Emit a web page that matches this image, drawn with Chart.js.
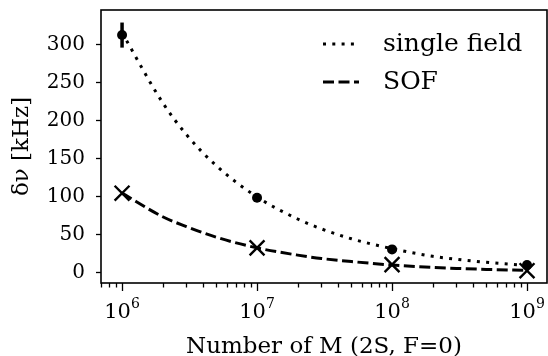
<!DOCTYPE html>
<html><head><meta charset="utf-8">
<style>html,body{margin:0;padding:0;background:#fff}#wrap{width:548px;height:356px}</style>
<script src="https://cdn.jsdelivr.net/npm/chart.js@4/dist/chart.umd.min.js"></script>
</head><body><div id="wrap"><canvas id="c" width="548" height="356"></canvas></div>
<script>
// ---- data ----
const curveN = [1e6, 2e6, 3e6, 5e6, 1e7, 2e7, 3e7, 5e7, 1e8, 2e8, 3e8, 5e8, 1e9];
const singleFieldFit = [316, 224, 182, 141, 100, 71, 58, 45, 32, 22, 18, 14, 10];
const sofFit = [105, 74, 61, 47, 33, 23.5, 19, 15, 10.5, 7.4, 6, 4.7, 3.3];
const measN = [1e6, 1e7, 1e8, 1e9];
const singleField = [313, 99, 31, 10.5];
const singleFieldErr = [16.5, 0, 0, 0];
const sof = [105, 33, 11, 3];
const xMajorTicks = [1e6, 1e7, 1e8, 1e9];
const xTickExp = ['6', '7', '8', '9'];
const yTicks = [0, 50, 100, 150, 200, 250, 300];
const legendLabels = ['single field', 'SOF'];

const FONT = 'DejaVu Serif';
const toPts = (xs, ys) => xs.map((x, i) => ({x: x, y: ys[i]}));

const LW = 3;
const DOT = [3, 6.3];
const DASH = [11, 4.5];

const boxPlugin = {
  id: 'box',
  afterDatasetsDraw(chart) {
    const {ctx, scales} = chart;
    ctx.save();
    ctx.strokeStyle = '#000';
    ctx.lineWidth = 3.5;
    measN.forEach((n, i) => {
      if (!singleFieldErr[i]) return;
      const px = scales.x.getPixelForValue(n);
      ctx.beginPath();
      ctx.moveTo(px, scales.y.getPixelForValue(singleField[i] - singleFieldErr[i]));
      ctx.lineTo(px, scales.y.getPixelForValue(singleField[i] + singleFieldErr[i]));
      ctx.stroke();
    });
    ctx.restore();
  },
  afterDraw(chart) {
    const {ctx, chartArea: a, scales} = chart;
    ctx.save();
    ctx.strokeStyle = '#000';
    ctx.lineWidth = 1.6;
    ctx.strokeRect(a.left, a.top, a.right - a.left, a.bottom - a.top);
    const xs = scales.x;
    ctx.lineWidth = 1.3;
    for (let e = 5; e <= 9; e++) {
      for (let m = 1; m <= 9; m++) {
        const v = m * Math.pow(10, e);
        if (v < xs.min || v > xs.max) continue;
        const px = Math.round(xs.getPixelForValue(v)) + 0.5;
        const len = m === 1 ? 8 : 4.5;
        ctx.beginPath(); ctx.moveTo(px, a.bottom); ctx.lineTo(px, a.bottom + len); ctx.stroke();
      }
    }
    ctx.fillStyle = '#000';
    ctx.textBaseline = 'alphabetic';
    xMajorTicks.forEach((v, i) => {
      const px = xs.getPixelForValue(v);
      ctx.font = '21px "' + FONT + '"';
      const w1 = ctx.measureText('10').width;
      ctx.font = '14px "' + FONT + '"';
      const w2 = ctx.measureText(xTickExp[i]).width;
      const left = px - (w1 + w2) / 2;
      ctx.font = '21px "' + FONT + '"';
      ctx.textAlign = 'left';
      ctx.fillText('10', left, 318);
      ctx.font = '14px "' + FONT + '"';
      ctx.fillText(xTickExp[i], left + w1, 308);
    });
    const lx0 = 323, lx1 = 359, tx = 383;
    const ly = [44, 82];
    const dashes = [DOT, DASH];
    ctx.lineWidth = LW;
    legendLabels.forEach((t, i) => {
      ctx.setLineDash(dashes[i]);
      ctx.beginPath(); ctx.moveTo(lx0, ly[i]); ctx.lineTo(lx1, ly[i]); ctx.stroke();
      ctx.setLineDash([]);
      ctx.font = '25px "' + FONT + '"';
      ctx.textAlign = 'left';
      ctx.textBaseline = 'middle';
      ctx.fillText(t, tx, ly[i]);
    });
    ctx.restore();
  }
};

new Chart(document.getElementById('c'), {
  type: 'scatter',
  data: {
    datasets: [
      {data: toPts(curveN, singleFieldFit), showLine: true, borderColor: '#000', borderWidth: LW,
       borderDash: DOT, pointRadius: 0, cubicInterpolationMode: 'monotone'},
      {data: toPts(curveN, sofFit), showLine: true, borderColor: '#000', borderWidth: LW,
       borderDash: DASH, pointRadius: 0, cubicInterpolationMode: 'monotone'},
      {data: toPts(measN, singleField), pointStyle: 'circle', pointRadius: 5,
       backgroundColor: '#000', borderColor: '#000', borderWidth: 0},
      {data: toPts(measN, sof), pointStyle: 'crossRot', pointRadius: 10.5,
       borderColor: '#000', borderWidth: 2.4, backgroundColor: '#000'}
    ]
  },
  options: {
    responsive: false, animation: false,
    layout: {autoPadding: false, padding: {left: 0, right: 1, top: 10, bottom: 0}},
    plugins: {legend: {display: false}, tooltip: {enabled: false}},
    scales: {
      x: {
        type: 'logarithmic', min: Math.pow(10, 5.844), max: Math.pow(10, 9.148),
        afterBuildTicks: s => { s.ticks = xMajorTicks.map(v => ({value: v})); },
        ticks: {display: false},
        grid: {display: false},
        border: {display: false},
        afterFit: s => { s.height = 73; s.paddingLeft = 0; s.paddingRight = 0; },
        title: {display: true, text: 'Number of M (2S, F=0)', color: '#000',
                font: {family: FONT, size: 23, lineHeight: 1.0}, padding: {top: 0, bottom: -3}}
      },
      y: {
        min: -13.2, max: 346,
        afterBuildTicks: s => { s.ticks = yTicks.map(v => ({value: v})); },
        ticks: {color: '#000', font: {family: FONT, size: 20}, padding: 11},
        grid: {drawOnChartArea: false, drawTicks: true, tickLength: 5, color: '#000', tickWidth: 1.3},
        border: {display: false},
        afterFit: s => { s.width = 101; s.paddingTop = 0; s.paddingBottom = 0; },
        title: {display: true, text: 'δν [kHz]', color: '#000',
                font: {family: FONT, size: 23}, padding: {top: 8, bottom: 0}}
      }
    }
  },
  plugins: [boxPlugin]
});
</script></body></html>
